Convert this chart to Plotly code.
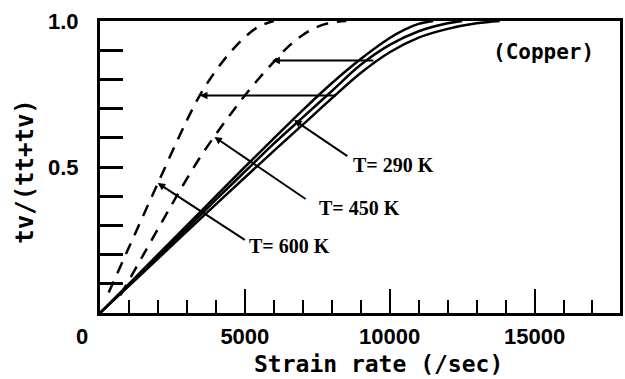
import plotly.graph_objects as go

# ---- data ----
solid_a_x = [0, 1000, 2000, 3000, 4000, 5000, 6000, 7000, 8000, 9000, 10000, 10500, 11000, 11500]
solid_a_y = [0, 0.100, 0.200, 0.300, 0.400, 0.500, 0.598, 0.695, 0.787, 0.870, 0.942, 0.970, 0.990, 1.0]

solid_b_x = [0, 1000, 2000, 3000, 4000, 5000, 6000, 7000, 8000, 9000, 10000, 11000, 12000, 12500]
solid_b_y = [0, 0.097, 0.194, 0.290, 0.388, 0.484, 0.580, 0.670, 0.760, 0.850, 0.918, 0.965, 0.992, 1.0]

solid_c_x = [0, 1000, 2000, 3000, 4000, 5000, 6000, 7000, 8000, 9000, 10000, 11000, 12000, 13000, 13800]
solid_c_y = [0, 0.093, 0.186, 0.280, 0.372, 0.464, 0.555, 0.645, 0.735, 0.822, 0.893, 0.943, 0.973, 0.992, 1.0]

dash_1_x = [300, 1000, 2000, 3000, 3500, 4000, 4500, 5000, 5500, 6000]
dash_1_y = [0.07, 0.225, 0.445, 0.660, 0.755, 0.830, 0.893, 0.945, 0.982, 1.0]

dash_2_x = [700, 1500, 2500, 3000, 3500, 4000, 4500, 5000, 5500, 6000, 6500, 7000, 7500, 8000, 8500]
dash_2_y = [0.06, 0.20, 0.375, 0.460, 0.540, 0.612, 0.680, 0.745, 0.805, 0.860, 0.912, 0.952, 0.980, 0.995, 1.0]

# horizontal connector lines: (y, x_start at dashed curve, x_end at solid curve)
hlines_y = [0.745, 0.865]
hlines_x0 = [3450, 5950]
hlines_x1 = [8200, 9490]

# temperature labels
temp_labels = ["T= 290 K", "T= 450 K", "T= 600 K"]
label_x = [8660, 7490, 5086]
label_y = [0.507, 0.36, 0.229]
arrow_tail_x = [8590, 7150, 5050]
arrow_tail_y = [0.534, 0.387, 0.247]
arrow_tip_x = [6700, 3950, 1990]
arrow_tip_y = [0.661, 0.603, 0.445]

x_major = [0, 5000, 10000, 15000]
x_major_text = ["", "5000", "10000", "15000"]
y_ticks = [0.1, 0.2, 0.3, 0.4, 0.5, 0.6, 0.7, 0.8, 0.9, 1.0]
y_tick_text = ["", "", "", "", "0.5", "", "", "", "", "1.0"]

fig = go.Figure()
for xs, ys in [(solid_a_x, solid_a_y), (solid_b_x, solid_b_y), (solid_c_x, solid_c_y)]:
    fig.add_trace(go.Scatter(x=xs, y=ys, mode="lines", line=dict(color="black", width=2.5, shape="spline"),
                             showlegend=False, hoverinfo="skip"))
for xs, ys in [(dash_1_x, dash_1_y), (dash_2_x, dash_2_y)]:
    fig.add_trace(go.Scatter(x=xs, y=ys, mode="lines",
                             line=dict(color="black", width=2.5, dash="12px,9px", shape="spline"),
                             showlegend=False, hoverinfo="skip"))

annotations = []
for y, x0, x1 in zip(hlines_y, hlines_x0, hlines_x1):
    annotations.append(dict(x=x0, y=y, ax=x1, ay=y, xref="x", yref="y", axref="x", ayref="y",
                            text="", showarrow=True, arrowhead=2, arrowsize=0.75, arrowwidth=2,
                            arrowcolor="black", standoff=0))
for tx, ty, hx, hy in zip(arrow_tail_x, arrow_tail_y, arrow_tip_x, arrow_tip_y):
    annotations.append(dict(x=hx, y=hy, ax=tx, ay=ty, xref="x", yref="y", axref="x", ayref="y",
                            text="", showarrow=True, arrowhead=2, arrowsize=0.75, arrowwidth=2,
                            arrowcolor="black", standoff=0))
for t, lx, ly in zip(temp_labels, label_x, label_y):
    annotations.append(dict(x=lx, y=ly, xref="x", yref="y", text=t, showarrow=False,
                            xanchor="left", yanchor="middle",
                            font=dict(family="Liberation Serif", size=20, color="black", weight="bold")))

annotations.append(dict(x=0.853, y=0.894, xref="paper", yref="paper", text="(Copper)", showarrow=False,
                        xanchor="center", yanchor="middle",
                        font=dict(family="DejaVu Sans Mono", size=21, color="black", weight="bold")))
annotations.append(dict(x=0.535, y=-0.176, xref="paper", yref="paper", text="Strain rate (/sec)",
                        showarrow=False, xanchor="center", yanchor="middle",
                        font=dict(family="DejaVu Sans Mono", size=23, color="black", weight="bold")))
annotations.append(dict(x=-0.145, y=0.486, xref="paper", yref="paper", text="tv/(tt+tv)",
                        showarrow=False, xanchor="center", yanchor="middle", textangle=-90,
                        font=dict(family="DejaVu Sans Mono", size=24, color="black", weight="bold")))
annotations.append(dict(x=0, y=0, xref="x", yref="y", text="0", showarrow=False,
                        xanchor="center", yanchor="top", xshift=-18, yshift=-9,
                        font=dict(family="Liberation Sans", size=22, color="black", weight="bold")))

tickfont = dict(family="Liberation Sans", size=22, color="black", weight="bold")
fig.update_layout(
    width=625, height=379,
    margin=dict(l=100, r=2, t=21, b=66),
    paper_bgcolor="white", plot_bgcolor="white",
    annotations=annotations,
    xaxis=dict(range=[0, 17950], tickmode="array", tickvals=x_major, ticktext=x_major_text,
               ticks="inside", ticklen=24, tickwidth=2, tickcolor="black", tickfont=tickfont,
               minor=dict(dtick=1000, tick0=0, ticks="inside", ticklen=13, tickwidth=2, tickcolor="black"),
               showgrid=False, zeroline=False, showline=True, linewidth=3, linecolor="black",
               mirror=True, ticklabelstandoff=2),
    yaxis=dict(range=[0, 1], tickmode="array", tickvals=y_ticks, ticktext=y_tick_text,
               ticks="inside", ticklen=23, tickwidth=2.5, tickcolor="black", tickfont=tickfont,
               showgrid=False, zeroline=False, showline=True, linewidth=3, linecolor="black",
               mirror=True, ticklabelstandoff=14),
)
fig.write_html("out.html")
